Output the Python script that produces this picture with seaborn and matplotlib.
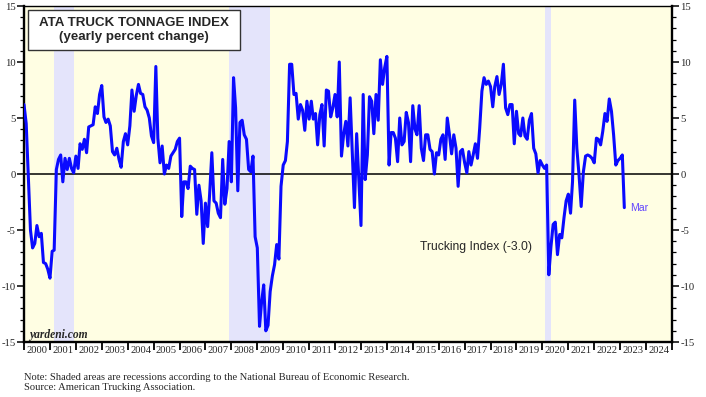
import pandas as pd
import matplotlib
matplotlib.use("Agg")
import matplotlib.pyplot as plt
import matplotlib.dates as mdates
from matplotlib.patches import Rectangle
from matplotlib.ticker import MultipleLocator
import seaborn as sns

# ATA truck tonnage, yearly % change, monthly readings (Jan 2000 - Mar 2023)
yoy_2000_2004 = [
    6.2, 4.5, 0.0, -5.0, -6.6, -6.2, -4.6, -5.6, -5.3, -7.9, -8.0, -8.5,
    -9.3, -6.9, -6.8, 0.4, 1.3, 1.7, -0.7, 1.4, 0.4, 1.4, 0.5, 0.1,
    1.6, 0.5, 2.7, 2.2, 3.1, 1.9, 4.2, 4.3, 4.4, 6.0, 5.4, 7.1,
    7.9, 5.1, 4.6, 4.9, 4.3, 2.0, 1.7, 2.3, 1.3, 0.6, 2.9, 3.6,
    2.6, 4.3, 7.5, 5.6, 7.0, 8.0, 7.2, 7.1, 6.0, 5.7, 5.0, 3.4,
]
yoy_2005_2009 = [
    2.8, 9.6, 3.2, 1.0, 2.5, 0.0, 0.8, 0.5, 1.6, 1.9, 2.2, 2.9,
    3.2, -3.8, -0.7, -0.7, -1.3, 0.7, 0.5, 0.4, -3.6, -1.0, -2.4, -6.2,
    -2.6, -4.7, -1.8, 1.9, -2.4, -2.6, -3.5, -3.9, 1.3, -2.7, -1.3, 2.9,
    -0.7, 8.6, 5.9, -1.5, 4.6, 4.8, 3.5, 3.1, 0.4, 0.2, 1.6, -5.6,
    -6.6, -13.6, -11.5, -9.9, -14.0, -13.5, -10.5, -9.1, -8.1, -6.3, -7.6, -1.1,
]
yoy_2010_2014 = [
    0.8, 1.2, 2.9, 9.8, 9.8, 7.1, 7.2, 4.9, 6.2, 5.7, 3.9, 6.5,
    4.9, 6.5, 4.9, 5.4, 2.6, 5.3, 6.2, 2.5, 7.5, 7.4, 5.1, 5.9,
    7.1, 5.1, 10.0, 1.6, 3.5, 4.7, 2.5, 6.8, 1.7, -3.0, 3.6, -0.5,
    -4.6, 7.1, -0.5, 1.7, 6.9, 6.5, 3.6, 7.1, 4.8, 10.2, 8.0, 9.5,
    10.5, 0.8, 3.7, 3.7, 3.2, 1.1, 5.0, 2.6, 2.9, 5.5, 4.6, 1.1,
]
yoy_2015_2019 = [
    6.1, 4.0, 3.5, 6.1, 2.3, 1.2, 3.5, 3.5, 2.2, 2.0, 0.0, 1.9,
    1.7, 3.1, 3.5, 1.3, 5.0, 3.5, 1.8, 3.5, 2.3, -1.1, 2.0, 2.2,
    1.0, 0.1, 2.0, 0.8, 1.7, 2.7, 1.4, 4.1, 7.4, 8.6, 8.0, 8.3,
    7.8, 6.0, 7.8, 8.7, 7.1, 8.0, 9.8, 5.9, 5.3, 6.2, 6.2, 2.7,
    5.6, 3.6, 3.4, 5.0, 3.4, 3.1, 4.8, 5.4, 2.3, 1.8, 0.1, 1.2,
]
yoy_2020_2023 = [
    0.8, 0.5, 0.8, -9.0, -6.5, -4.5, -4.3, -7.2, -5.4, -5.7, -3.9, -2.4,
    -1.8, -3.5, -0.7, 6.6, 2.3, -0.1, -2.9, 0.2, 1.6, 1.7, 1.6, 1.4,
    1.0, 3.2, 3.1, 2.6, 3.8, 5.4, 4.7, 6.7, 5.6, 3.5, 0.8, 1.2,
    1.4, 1.7, -3.0,
]

recession_starts = ["2001-03-01", "2007-12-01", "2020-02-01"]
recession_ends = ["2001-11-30", "2009-06-30", "2020-04-30"]

values = yoy_2000_2004 + yoy_2005_2009 + yoy_2010_2014 + yoy_2015_2019 + yoy_2020_2023
df = pd.DataFrame({
    "date": pd.date_range("2000-01-01", periods=len(values), freq="MS"),
    "yoy": values,
})

sns.set_theme(style="white")
plt.rcParams["font.family"] = ["Liberation Sans", "DejaVu Sans"]
plt.rcParams["axes.unicode_minus"] = False
SERIF = "Liberation Serif"

fig = plt.figure(figsize=(7.06, 3.97), dpi=100)
ax = fig.add_axes([24 / 706, 55 / 397, 648 / 706, 336 / 397])
ax.set_facecolor("#fffee3")

for start, end in zip(recession_starts, recession_ends):
    ax.axvspan(pd.Timestamp(start), pd.Timestamp(end), color="#e4e4fb", lw=0, zorder=0)
ax.axhline(0, color="black", lw=1.1, zorder=1)

sns.lineplot(data=df, x="date", y="yoy", color="#0a0aff", lw=2.2, ax=ax, zorder=3)

ax.set_xlim(pd.Timestamp("2000-01-01"), pd.Timestamp("2025-01-01"))
ax.set_ylim(-15, 15)
ax.set_xlabel("")
ax.set_ylabel("")

# axes frame
for side in ["left", "right", "bottom"]:
    ax.spines[side].set_linewidth(1.7)
    ax.spines[side].set_color("black")
ax.spines["top"].set_linewidth(1.0)
ax.spines["top"].set_color("black")

# y ticks on both sides
ax.yaxis.set_major_locator(MultipleLocator(5))
ax.yaxis.set_minor_locator(MultipleLocator(1))
ax.tick_params(axis="y", which="both", left=True, right=True, labelleft=True,
               labelright=True, direction="out", color="black",
               labelsize=7.7, labelfontfamily=SERIF, pad=1)
ax.tick_params(axis="y", which="major", length=5, width=1.1)
ax.tick_params(axis="y", which="minor", length=3, width=0.9)

# year ticks, labels centred between them
ax.xaxis.set_major_locator(mdates.YearLocator())
ax.xaxis.set_major_formatter(plt.NullFormatter())
ax.xaxis.set_minor_locator(mdates.MonthLocator(bymonth=7, bymonthday=1))
ax.xaxis.set_minor_formatter(mdates.DateFormatter("%Y"))
ax.tick_params(axis="x", which="major", bottom=True, length=6, width=1.3,
               direction="out", color="black")
ax.tick_params(axis="x", which="minor", bottom=True, length=0, pad=3,
               labelsize=7.6, labelfontfamily=SERIF)

# title box
fig.add_artist(Rectangle((28 / 706, 1 - 50 / 397), 212 / 706, 40 / 397,
                         transform=fig.transFigure, fc="white", ec="#333333", lw=1.0, zorder=5))
fig.text(134 / 706, 1 - 23 / 397, "ATA TRUCK TONNAGE INDEX", ha="center", va="center",
         fontsize=9.6, fontweight="bold", zorder=6)
fig.text(134 / 706, 1 - 37 / 397, "(yearly percent change)", ha="center", va="center",
         fontsize=9.6, fontweight="bold", zorder=6)

fig.text(29 / 706, 1 - 335 / 397, "yardeni.com", ha="left", va="center", fontsize=8.3,
         fontweight="bold", fontstyle="italic", family=SERIF)
fig.text(420 / 706, 1 - 247 / 397, "Trucking Index (-3.0)", ha="left", va="center", fontsize=8.7)
fig.text(630 / 706, 1 - 208 / 397, "Mar", ha="left", va="center", fontsize=7.6, color="#6244ff")

fig.text(24 / 706, 1 - 377 / 397,
         "Note: Shaded areas are recessions according to the National Bureau of Economic Research.",
         ha="left", va="center", fontsize=7.6, family=SERIF)
fig.text(24 / 706, 1 - 388 / 397, "Source: American Trucking Association.",
         ha="left", va="center", fontsize=7.6, family=SERIF)

fig.savefig("out.png", dpi=100)
